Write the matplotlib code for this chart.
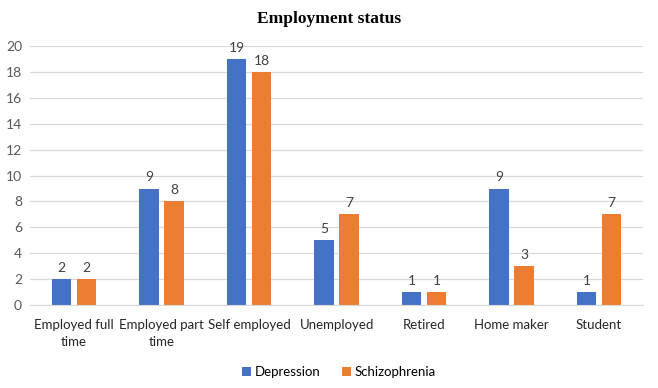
import numpy as np
import matplotlib.pyplot as plt

categories = ["Employed full\ntime", "Employed part\ntime", "Self employed",
              "Unemployed", "Retired", "Home maker", "Student"]
depression = [2, 9, 19, 5, 1, 9, 1]
schizophrenia = [2, 8, 18, 7, 1, 3, 7]

plt.rcParams['font.family'] = ['Lato', 'DejaVu Sans']

fig = plt.figure(figsize=(6.58, 3.88), dpi=100)
ax = fig.add_axes([0.046, 0.214, 0.931, 0.667])

x = np.arange(len(categories))
w = 0.225
gap = 0.03
b1 = ax.bar(x - w / 2 - gap, depression, w, color='#4472C4', label='Depression')
b2 = ax.bar(x + w / 2 + gap, schizophrenia, w, color='#ED7D31', label='Schizophrenia')

for bars in (b1, b2):
    for r in bars:
        ax.text(r.get_x() + r.get_width() / 2, r.get_height() + 0.4,
                f"{int(r.get_height())}", ha='center', va='bottom',
                fontsize=10, color='#404040')

ax.set_xlim(-0.5, len(categories) - 0.5)
ax.set_ylim(0, 20)
ax.set_yticks(range(0, 21, 2))
ax.set_xticks(x)
ax.set_xticklabels(categories, fontsize=9.5, color='#262626', linespacing=1.55)
ax.tick_params(axis='y', labelsize=10, labelcolor='#595959', length=0, pad=6)
ax.tick_params(axis='x', length=0, pad=10)
ax.grid(axis='y', color='#d9d9d9', linewidth=0.9)
ax.set_axisbelow(True)
for s in ['top', 'right', 'left']:
    ax.spines[s].set_visible(False)
ax.spines['bottom'].set_color('#d9d9d9')

fig.text(0.5, 0.952, "Employment status", ha='center', va='center',
         fontsize=12.5, fontweight='bold', family='Liberation Serif')

fig.legend(handles=[b1, b2], loc='center', bbox_to_anchor=(0.515, 0.04), ncol=2,
           frameon=False, fontsize=9.5, handlelength=0.7, handleheight=0.7,
           handletextpad=0.3, columnspacing=1.6)

fig.savefig("out.png", dpi=100)
